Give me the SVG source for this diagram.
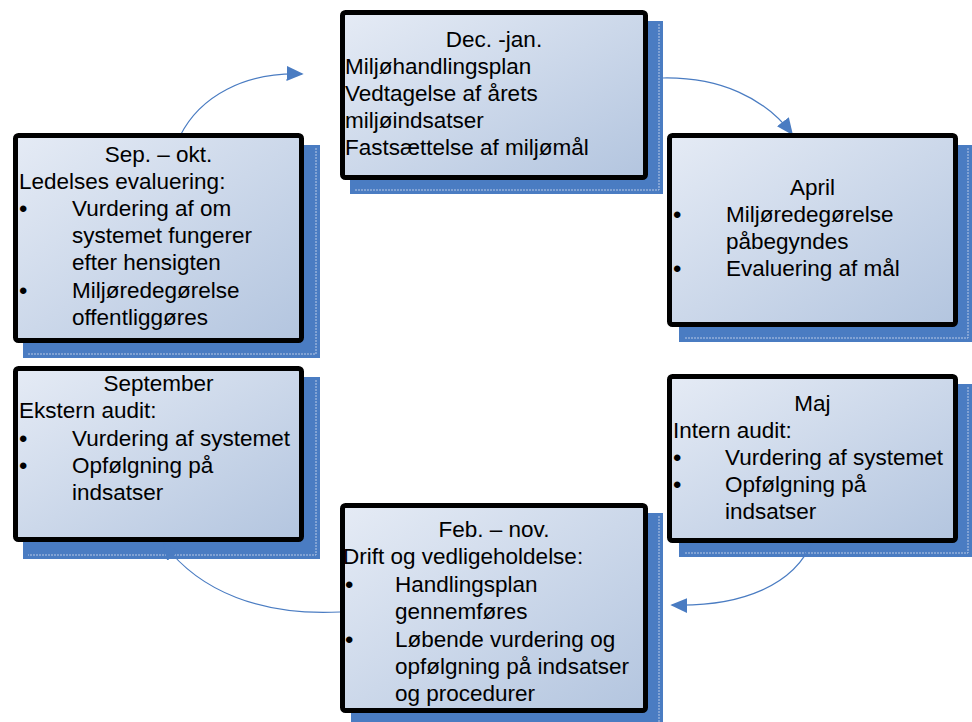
<svg xmlns="http://www.w3.org/2000/svg" width="972" height="722" viewBox="0 0 972 722">
<defs>
<linearGradient id="fillGrad" x1="0" y1="0" x2="1" y2="1">
<stop offset="0" stop-color="#e5ebf5"/>
<stop offset="1" stop-color="#b3c5df"/>
</linearGradient>
<marker id="arrowBig" viewBox="0 0 10 10" refX="9" refY="5" markerWidth="17" markerHeight="15" markerUnits="userSpaceOnUse" orient="auto" preserveAspectRatio="none">
<path d="M0,0 L10,5 L0,10 Z" fill="#4a7cc2"/>
</marker>
</defs>
<style>
.shadow { fill: #4a7cc2; }
.shline { fill: none; stroke: #b8c9e6; stroke-width: 1; stroke-dasharray: 2 1; }
.box { fill: url(#fillGrad); stroke: #000; stroke-width: 5; }
.t { font-family: "Liberation Sans", Arial, sans-serif; font-size: 22.5px; fill: #000; }
.c { text-anchor: middle; }
.b { font-size: 24px; }
.conn { fill: none; stroke: #4a7cc2; stroke-width: 1.2; }
</style>
<rect width="972" height="722" fill="#fff"/>

<g id="shadows">
<rect class="shadow" x="350" y="21" width="313" height="173"/>
<polyline class="shline" points="659,24 659,190 354,190"/>
<rect class="shadow" x="23" y="145" width="297" height="213"/>
<polyline class="shline" points="316,148 316,354 28,354"/>
<rect class="shadow" x="679" y="145" width="293" height="197"/>
<polyline class="shline" points="968,148 968,338 684,338"/>
<rect class="shadow" x="679" y="384" width="293" height="173"/>
<polyline class="shline" points="968,387 968,553 684,553"/>
<rect class="shadow" x="351" y="513" width="312" height="217"/>
<polyline class="shline" points="659,516 659,722"/>
<rect class="shadow" x="23" y="377" width="297" height="182"/>
<polyline class="shline" points="316,380 316,555 28,555"/>
</g>

<g id="connectors">
<path class="conn" d="M180,136 C200,96 245,72 302,74" marker-end="url(#arrowBig)"/>
<path class="conn" d="M663,78 C720,77 765,98 792,134" marker-end="url(#arrowBig)"/>
<path class="conn" d="M813,540 C795,585 742,607 672,605" marker-end="url(#arrowBig)"/>
<path class="conn" d="M340,612 C262,616 200,592 164,544" marker-end="url(#arrowBig)"/>
</g>

<g id="node-dec-jan">
<rect class="box" x="342.5" y="12.5" width="303" height="165" rx="3"/>
<text class="t c" x="494" y="47">Dec. -jan.</text>
<text class="t" x="345" y="74">Miljøhandlingsplan</text>
<text class="t" x="345" y="101">Vedtagelse af årets</text>
<text class="t" x="345" y="128">miljøindsatser</text>
<text class="t" x="345" y="155">Fastsættelse af miljømål</text>
</g>

<g id="node-sep-okt">
<rect class="box" x="15.5" y="135.5" width="286" height="205" rx="3"/>
<text class="t c" x="158.5" y="162">Sep. – okt.</text>
<text class="t" x="19" y="189">Ledelses evaluering:</text>
<text class="t b" x="19" y="217">•</text>
<text class="t" x="72" y="216">Vurdering af om</text>
<text class="t" x="72" y="243">systemet fungerer</text>
<text class="t" x="72" y="270">efter hensigten</text>
<text class="t b" x="19" y="299">•</text>
<text class="t" x="72" y="298">Miljøredegørelse</text>
<text class="t" x="72" y="325">offentliggøres</text>
</g>

<g id="node-april">
<rect class="box" x="669.5" y="135.5" width="286" height="189" rx="3"/>
<text class="t c" x="812.5" y="195">April</text>
<text class="t b" x="673" y="223">•</text>
<text class="t" x="726" y="222">Miljøredegørelse</text>
<text class="t" x="726" y="249">påbegyndes</text>
<text class="t b" x="673" y="277">•</text>
<text class="t" x="726" y="276">Evaluering af mål</text>
</g>

<g id="node-maj">
<rect class="box" x="669.5" y="376.5" width="286" height="164" rx="3"/>
<text class="t c" x="812.5" y="411">Maj</text>
<text class="t" x="673" y="438">Intern audit:</text>
<text class="t b" x="673" y="466">•</text>
<text class="t" x="725" y="465">Vurdering af systemet</text>
<text class="t b" x="673" y="493">•</text>
<text class="t" x="725" y="492">Opfølgning på</text>
<text class="t" x="725" y="519">indsatser</text>
</g>

<g id="node-feb-nov">
<rect class="box" x="342.5" y="505.5" width="303" height="205" rx="3"/>
<text class="t c" x="494" y="537">Feb. – nov.</text>
<text class="t" x="343" y="564">Drift og vedligeholdelse:</text>
<text class="t b" x="345" y="593">•</text>
<text class="t" x="395" y="592">Handlingsplan</text>
<text class="t" x="395" y="619">gennemføres</text>
<text class="t b" x="345" y="648">•</text>
<text class="t" x="395" y="647">Løbende vurdering og</text>
<text class="t" x="395" y="674">opfølgning på indsatser</text>
<text class="t" x="395" y="701">og procedurer</text>
</g>

<g id="node-september">
<rect class="box" x="15.5" y="368.5" width="286" height="171" rx="3"/>
<text class="t c" x="158.5" y="391">September</text>
<text class="t" x="19" y="418">Ekstern audit:</text>
<text class="t b" x="19" y="447">•</text>
<text class="t" x="72" y="446">Vurdering af systemet</text>
<text class="t b" x="19" y="474">•</text>
<text class="t" x="72" y="473">Opfølgning på</text>
<text class="t" x="72" y="500">indsatser</text>
</g>
</svg>
